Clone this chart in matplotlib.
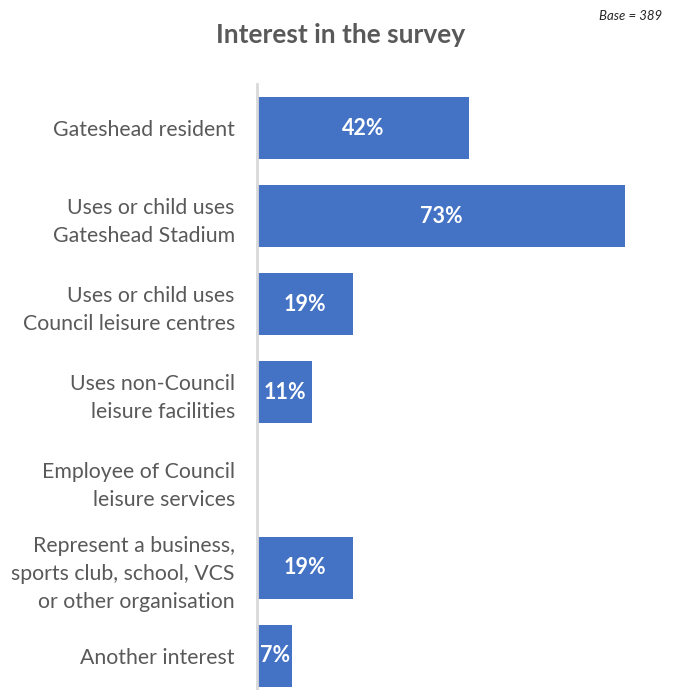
import matplotlib
matplotlib.use("Agg")
import matplotlib.pyplot as plt

categories = [
    "Gateshead resident",
    "Uses or child uses\nGateshead Stadium",
    "Uses or child uses\nCouncil leisure centres",
    "Uses non-Council\nleisure facilities",
    "Employee of Council\nleisure services",
    "Represent a business,\nsports club, school, VCS\nor other organisation",
    "Another interest",
]
values = [42, 73, 19, 11, 0, 19, 7]
title = "Interest in the survey"
base_note = "Base = 389"

W, H = 673, 690
fig = plt.figure(figsize=(W / 100, H / 100), dpi=100)
plt.rcParams['font.family'] = ['Lato', 'DejaVu Sans']

left, right, top, bottom = 257, 660, 84, 690
ax = fig.add_axes([left / W, 1 - bottom / H, (right - left) / W, (bottom - top) / H])

y = list(range(len(categories)))
bars = ax.barh(y, values, height=0.705, color="#4472C4")
ax.set_xlim(0, 80)
ax.set_ylim(-0.5 + (bottom - top) / 88, -0.5)

for yi, v in zip(y, values):
    if v > 0:
        ax.text(v / 2, yi, f"{v}%", ha="center", va="center", color="white",
                fontsize=15.5, fontweight="bold")

ax.set_yticks(y)
ax.set_yticklabels(categories, fontsize=15.3, color="#595959", linespacing=1.5)
ax.tick_params(axis="y", length=0, pad=16)
ax.set_xticks([])
for s in ["top", "right", "bottom"]:
    ax.spines[s].set_visible(False)
ax.spines["left"].set_color("#D9D9D9")
ax.spines["left"].set_linewidth(2)

fig.text(341 / W, 1 - 35 / H, title, ha="center", va="center", fontsize=19,
         fontweight="bold", color="#595959")
fig.text(662 / W, 1 - 16 / H, base_note, ha="right", va="center", fontsize=9.5,
         style="italic", color="#262626")

fig.savefig("out.png", dpi=100)
